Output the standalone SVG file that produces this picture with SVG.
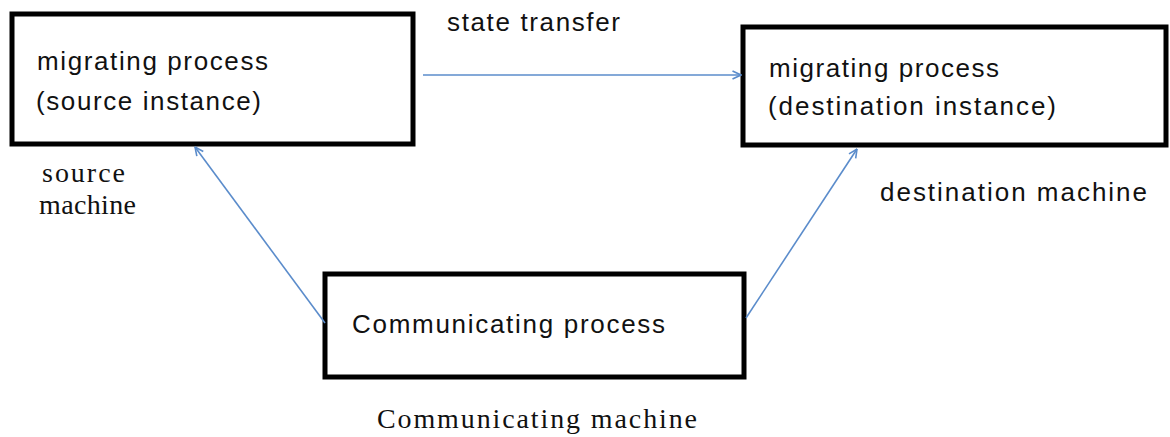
<svg xmlns="http://www.w3.org/2000/svg" width="1170" height="437" viewBox="0 0 1170 437">
  <style>
    .box { fill: #ffffff; stroke: #000000; stroke-width: 5; }
    .lbl { font-family: "Liberation Sans", "DejaVu Sans", sans-serif; font-size: 26px; fill: #111111; }
    .ser { font-family: "Liberation Serif", "DejaVu Serif", serif; font-size: 28px; fill: #111111; }
    .link { stroke: #5b8ccb; stroke-width: 1.6; fill: none; marker-end: url(#head); }
  </style>
  <defs>
    <marker id="head" viewBox="0 0 10 10" refX="9.5" refY="5" markerWidth="10" markerHeight="10" markerUnits="userSpaceOnUse" orient="auto">
      <polyline points="1,1 9.5,5 1,9" fill="none" stroke="#5b8ccb" stroke-width="1.6"/>
    </marker>
  </defs>
  <rect width="1170" height="437" fill="#ffffff"/>

  <g id="source-process">
    <rect class="box" x="12" y="14" width="401" height="130"/>
    <text class="lbl" x="37" y="70" textLength="231" lengthAdjust="spacing">migrating process</text>
    <text class="lbl" x="36" y="110" textLength="225" lengthAdjust="spacing">(source instance)</text>
  </g>

  <g id="destination-process">
    <rect class="box" x="743" y="27" width="423" height="118"/>
    <text class="lbl" x="769" y="77" textLength="230" lengthAdjust="spacing">migrating process</text>
    <text class="lbl" x="768" y="115" textLength="288" lengthAdjust="spacing">(destination instance)</text>
  </g>

  <g id="communicating-process">
    <rect class="box" x="325" y="274" width="419" height="103"/>
    <text class="lbl" x="352" y="333" textLength="313" lengthAdjust="spacing">Communicating process</text>
  </g>

  <g id="labels">
    <text class="lbl" x="447" y="31" textLength="173" lengthAdjust="spacing">state transfer</text>
    <text class="lbl" x="880" y="201" textLength="267" lengthAdjust="spacing">destination machine</text>
    <text class="ser" x="42" y="182" font-size="22" textLength="83" lengthAdjust="spacing">source</text>
    <text class="ser" x="39" y="214" font-size="22" textLength="97" lengthAdjust="spacing">machine</text>
    <text class="ser" x="377" y="428" textLength="320" lengthAdjust="spacing">Communicating machine</text>
  </g>

  <g id="connectors">
    <line class="link" x1="423" y1="75" x2="741" y2="75"/>
    <line class="link" x1="325" y1="323" x2="195" y2="147"/>
    <line class="link" x1="746" y1="318" x2="857" y2="149"/>
  </g>
</svg>
